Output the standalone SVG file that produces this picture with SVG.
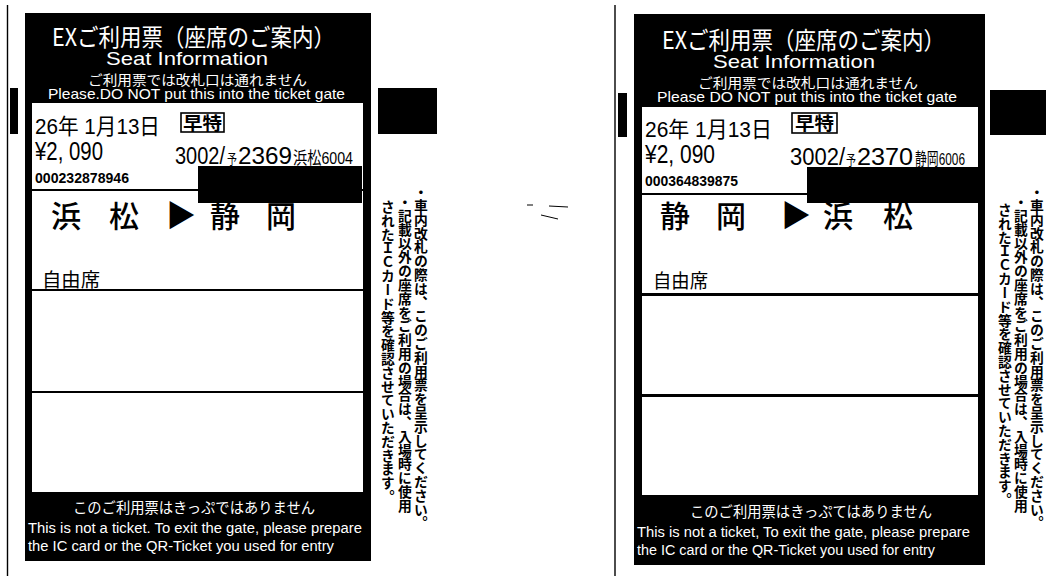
<svg xmlns="http://www.w3.org/2000/svg" width="1046" height="576" viewBox="0 0 1046 576">
<style>
.bk{fill:#000}
.w{fill:#fff}
.jp{font-family:"Noto Sans CJK JP","Noto Sans CJK SC",sans-serif}
.lat{font-family:"Liberation Sans","Noto Sans CJK JP",Arial,sans-serif}
.wt{fill:#fff}
.tx{fill:#000}
.rt{font-family:"Noto Sans CJK JP",sans-serif;font-weight:500;font-size:30px;fill:#000}
.vt{font-family:"Noto Sans CJK JP",sans-serif;font-weight:700;font-size:13.8px;fill:#000;writing-mode:vertical-rl}
.scan{stroke:#000;fill:none}
</style>
<rect width="1046" height="576" fill="#fff"/>

<g id="scan-marks">
  <line class="scan" x1="7.5" y1="5" x2="7.5" y2="576" stroke-width="1.4"/>
  <rect class="bk" x="10" y="88" width="8" height="46"/>
  <rect class="bk" x="378" y="88" width="59" height="46"/>
  <line class="scan" x1="615" y1="5" x2="615" y2="576" stroke-width="1.4"/>
  <rect class="bk" x="618" y="93" width="9" height="44"/>
  <rect class="bk" x="990" y="90" width="56" height="45"/>
  <path class="scan" d="M527 205h6M549 206l19 1M541 215l17 4" stroke-width="1" stroke="#666"/>
</g>

<g id="ticket-left">
  <rect class="bk" x="25" y="13" width="346" height="548"/>
  <rect class="w" x="32" y="103" width="331" height="86"/>
  <rect class="w" x="32" y="191" width="331" height="98"/>
  <rect class="w" x="32" y="291" width="331" height="100"/>
  <rect class="w" x="32" y="393" width="331" height="99"/>
  <text class="jp wt" x="52" y="46" font-size="24" textLength="283" lengthAdjust="spacingAndGlyphs">EXご利用票（座席のご案内）</text>
  <text class="lat wt" x="106" y="65" font-size="19" textLength="162" lengthAdjust="spacingAndGlyphs">Seat Information</text>
  <text class="jp wt" x="88" y="85" font-size="13.5" textLength="219" lengthAdjust="spacingAndGlyphs">ご利用票では改札口は通れません</text>
  <text class="lat wt" x="48" y="98.5" font-size="15" textLength="297" lengthAdjust="spacingAndGlyphs">Please.DO NOT put this into the ticket gate</text>

  <text class="lat tx" x="35" y="134" font-size="22" textLength="125" lengthAdjust="spacingAndGlyphs">26年 1月13日</text>
  <rect x="181" y="113" width="43" height="19" fill="#fff" stroke="#000" stroke-width="1.6"/>
  <text class="jp tx" x="183" y="129.5" font-size="18" font-weight="700" textLength="39" lengthAdjust="spacingAndGlyphs">早特</text>
  <text class="lat tx" x="35" y="160" font-size="26" textLength="68" lengthAdjust="spacingAndGlyphs">¥2, 090</text>
  <text class="lat tx" x="175" y="164" font-size="23" textLength="50" lengthAdjust="spacingAndGlyphs">3002/</text>
  <text class="jp tx" x="227" y="164" font-size="14" textLength="10" lengthAdjust="spacingAndGlyphs">予</text>
  <text class="lat tx" x="238" y="164" font-size="23" textLength="54" lengthAdjust="spacingAndGlyphs">2369</text>
  <text class="lat tx" x="293" y="164" font-size="17" textLength="60" lengthAdjust="spacingAndGlyphs">浜松6004</text>
  <text class="lat tx" x="35" y="183" font-size="14" font-weight="700" textLength="94" lengthAdjust="spacingAndGlyphs">000232878946</text>
  <rect class="bk" x="198" y="166" width="164" height="37"/>

  <text class="rt" x="51" y="227">浜</text>
  <text class="rt" x="109" y="227">松</text>
  <text class="rt" x="166" y="226" font-size="26">▶</text>
  <text class="rt" x="210" y="227">静</text>
  <text class="rt" x="266" y="227">岡</text>
  <text class="jp tx" x="42" y="287" font-size="19" textLength="58" lengthAdjust="spacingAndGlyphs">自由席</text>

  <text class="jp wt" x="73" y="513" font-size="14.5" textLength="242" lengthAdjust="spacingAndGlyphs">このご利用票はきっぷではありません</text>
  <text class="lat wt" x="28" y="533" font-size="15.5" textLength="334" lengthAdjust="spacingAndGlyphs">This is not a ticket. To exit the gate, please prepare</text>
  <text class="lat wt" x="28" y="551" font-size="15.5" textLength="306" lengthAdjust="spacingAndGlyphs">the IC card or the QR-Ticket you used for entry</text>

  <text class="vt" x="421" y="185">・車内改札の際は、このご利用票を呈示してください。</text>
  <text class="vt" x="405" y="195">・記載以外の座席をご利用の場合は、入場時に使用</text>
  <text class="vt" x="388" y="200">されたＩＣカード等を確認させていただきます。</text>
</g>

<g id="ticket-right">
  <rect class="bk" x="634" y="14" width="351" height="551"/>
  <rect class="w" x="642" y="107" width="336" height="86"/>
  <rect class="w" x="642" y="195" width="336" height="98"/>
  <rect class="w" x="642" y="296" width="336" height="98"/>
  <rect class="w" x="642" y="397" width="336" height="98"/>
  <text class="jp wt" x="662" y="49" font-size="24" textLength="283" lengthAdjust="spacingAndGlyphs">EXご利用票（座席のご案内）</text>
  <text class="lat wt" x="713" y="68" font-size="19" textLength="162" lengthAdjust="spacingAndGlyphs">Seat Information</text>
  <text class="jp wt" x="698" y="87.5" font-size="13.5" textLength="220" lengthAdjust="spacingAndGlyphs">ご利用票では改札口は通れません</text>
  <text class="lat wt" x="657" y="101.5" font-size="15" textLength="300" lengthAdjust="spacingAndGlyphs">Please DO NOT put this into the ticket gate</text>

  <text class="lat tx" x="645" y="137" font-size="22" textLength="127" lengthAdjust="spacingAndGlyphs">26年 1月13日</text>
  <rect x="792" y="113" width="45" height="20" fill="#fff" stroke="#000" stroke-width="1.6"/>
  <text class="jp tx" x="795" y="130" font-size="18" font-weight="700" textLength="39" lengthAdjust="spacingAndGlyphs">早特</text>
  <text class="lat tx" x="645" y="163" font-size="26" textLength="70" lengthAdjust="spacingAndGlyphs">¥2, 090</text>
  <text class="lat tx" x="790" y="165" font-size="23" textLength="55" lengthAdjust="spacingAndGlyphs">3002/</text>
  <text class="jp tx" x="846" y="165" font-size="14" textLength="10" lengthAdjust="spacingAndGlyphs">予</text>
  <text class="lat tx" x="857" y="165" font-size="23" textLength="56" lengthAdjust="spacingAndGlyphs">2370</text>
  <text class="lat tx" x="915" y="165" font-size="17" textLength="50" lengthAdjust="spacingAndGlyphs">静岡6006</text>
  <text class="lat tx" x="645" y="186" font-size="14" font-weight="700" textLength="93" lengthAdjust="spacingAndGlyphs">000364839875</text>
  <rect class="bk" x="807" y="167" width="171" height="36"/>

  <text class="rt" x="660" y="227">静</text>
  <text class="rt" x="716" y="227">岡</text>
  <text class="rt" x="781" y="226" font-size="26">▶</text>
  <text class="rt" x="823" y="227">浜</text>
  <text class="rt" x="883" y="227">松</text>
  <text class="jp tx" x="653" y="288" font-size="19" textLength="55" lengthAdjust="spacingAndGlyphs">自由席</text>

  <text class="jp wt" x="690" y="517" font-size="14.5" textLength="242" lengthAdjust="spacingAndGlyphs">このご利用票はきっぷてはありません</text>
  <text class="lat wt" x="637" y="537" font-size="15.5" textLength="333" lengthAdjust="spacingAndGlyphs">This is not a ticket, To exit the gate, please prepare</text>
  <text class="lat wt" x="637" y="555" font-size="15.5" textLength="298" lengthAdjust="spacingAndGlyphs">the IC card or the QR-Ticket you used for entry</text>

  <text class="vt" x="1037" y="185">・車内改札の際は、このご利用票を呈示してください。</text>
  <text class="vt" x="1021" y="195">・記載以外の座席をご利用の場合は、入場時に使用</text>
  <text class="vt" x="1005" y="203">されたＩＣカード等を確認させていただきます。</text>
</g>
</svg>
